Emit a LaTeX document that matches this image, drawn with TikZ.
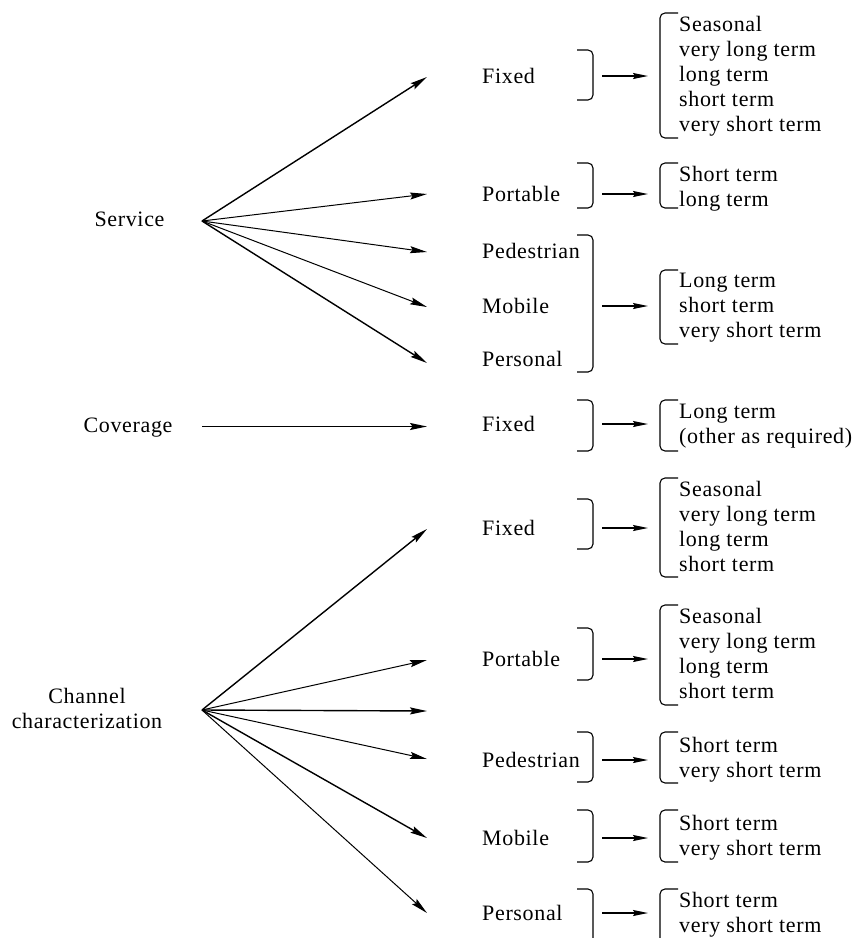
\documentclass[tikz,border=0pt]{standalone}
\usepackage{fontspec}
\setmainfont{Liberation Serif}[LetterSpace=3]
\usetikzlibrary{arrows.meta}
\begin{document}
\begin{tikzpicture}[x=1pt,y=-1pt,
  lbl/.style={font=\fontsize{22}{25}\selectfont, inner sep=0pt},
  src/.style={lbl, align=center, text height=14.6pt, text depth=0pt},
  srcml/.style={lbl, align=center},
  mode/.style={lbl, anchor=west, text height=14.6pt, text depth=0pt},
  lst/.style={lbl, anchor=west, align=left},
  arr/.style={-{Stealth[length=17pt,width=7pt,inset=2.5pt]}, line width=1.4pt},
  tarr/.style={arr, line width=1pt},
  barr/.style={-{Stealth[length=15pt,width=6pt,inset=2pt]}, line width=1.4pt},
  brk/.style={line width=1.1pt, rounded corners=5pt},
]
\useasboundingbox (0,0) rectangle (858,938);
\clip (0,0) rectangle (858,938);

% ---------- sources ----------
\node[src] (service) at (129.5,219.2) {Service};
\node[src] (coverage) at (128,425.5) {Coverage};
\node[srcml] (channel) at (87,711) {\strut Channel\\characterization\strut};

\coordinate (so) at (202,221);
\coordinate (co) at (202,426.5);
\coordinate (cho) at (202,710);

% ---------- fan end points ----------
\coordinate (sa) at (427,77);
\coordinate (sb) at (427,194);
\coordinate (sc) at (427,252);
\coordinate (sd) at (427,307);
\coordinate (se) at (427,363);
\coordinate (ce) at (427,426.5);
\coordinate (ca) at (427,529);
\coordinate (cb) at (427,660);
\coordinate (cc) at (427,711);
\coordinate (cd) at (427,759);
\coordinate (cf) at (427,838);
\coordinate (cg) at (427,913);

\draw[arr]  (so) -- (sa);
\draw[tarr] (so) -- (sb);
\draw[tarr] (so) -- (sc);
\draw[tarr] (so) -- (sd);
\draw[arr]  (so) -- (se);
\draw[arr]  (co) -- (ce);
\draw[arr]  (cho) -- (ca);
\draw[tarr] (cho) -- (cb);
\draw[arr]  (cho) -- (cc);
\draw[tarr] (cho) -- (cd);
\draw[arr]  (cho) -- (cf);
\draw[tarr] (cho) -- (cg);

% ---------- mode labels ----------
\node[mode] (m1) at (482,76)  {Fixed};
\node[mode] (m2) at (482,194) {Portable};
\node[mode] (m3) at (482,251) {Pedestrian};
\node[mode] (m4) at (482,306) {Mobile};
\node[mode] (m5) at (482,359) {Personal};
\node[mode] (m6) at (482,424) {Fixed};
\node[mode] (m7) at (482,528) {Fixed};
\node[mode] (m8) at (482,659) {Portable};
\node[mode] (m9) at (482,760) {Pedestrian};
\node[mode] (m10) at (482,838) {Mobile};
\node[mode] (m11) at (482,913) {Personal};

% ---------- right braces ----------
\draw[brk] (577,50)  -- (593,50)  -- (593,100) -- (577,100);
\draw[brk] (577,163) -- (593,163) -- (593,208) -- (577,208);
\draw[brk] (577,235) -- (593,235) -- (593,372) -- (577,372);
\draw[brk] (577,400) -- (593,400) -- (593,451) -- (577,451);
\draw[brk] (577,499) -- (593,499) -- (593,549) -- (577,549);
\draw[brk] (577,628) -- (593,628) -- (593,680) -- (577,680);
\draw[brk] (577,732) -- (593,732) -- (593,782) -- (577,782);
\draw[brk] (577,810) -- (593,810) -- (593,862) -- (577,862);
\draw[brk] (577,889) -- (593,889) -- (593,960) -- (577,960);

% ---------- bracket arrows ----------
\foreach \n/\y in {a/76,b/194,c/306,d/424,e/528,f/659,g/760,h/838,i/913}{
  \coordinate (bs\n) at (602,\y);
  \coordinate (be\n) at (648,\y);
  \draw[barr] (bs\n) -- (be\n);
}

% ---------- left brackets ----------
\draw[brk] (678,13)  -- (660,13)  -- (660,138) -- (678,138);
\draw[brk] (678,163) -- (660,163) -- (660,208) -- (678,208);
\draw[brk] (678,270) -- (660,270) -- (660,344) -- (678,344);
\draw[brk] (678,400) -- (660,400) -- (660,451) -- (678,451);
\draw[brk] (678,478) -- (660,478) -- (660,577) -- (678,577);
\draw[brk] (678,605) -- (660,605) -- (660,705) -- (678,705);
\draw[brk] (678,732) -- (660,732) -- (660,783) -- (678,783);
\draw[brk] (678,810) -- (660,810) -- (660,862) -- (678,862);
\draw[brk] (678,889) -- (660,889) -- (660,960) -- (678,960);

% ---------- lists ----------
\node[lst] (l1) at (679,76) {\strut Seasonal\\very long term\\long term\\short term\\very short term\strut};
\node[lst] (l2) at (679,189) {\strut Short term\\long term\strut};
\node[lst] (l3) at (679,307) {\strut Long term\\short term\\very short term\strut};
\node[lst] (l4) at (679,426) {\strut Long term\\(other as required)\strut};
\node[lst] (l5) at (679,529) {\strut Seasonal\\very long term\\long term\\short term\strut};
\node[lst] (l6) at (679,656) {\strut Seasonal\\very long term\\long term\\short term\strut};
\node[lst] (l7) at (679,760) {\strut Short term\\very short term\strut};
\node[lst] (l8) at (679,838) {\strut Short term\\very short term\strut};
\node[lst] (l9) at (679,915) {\strut Short term\\very short term\strut};
\end{tikzpicture}
\end{document}
